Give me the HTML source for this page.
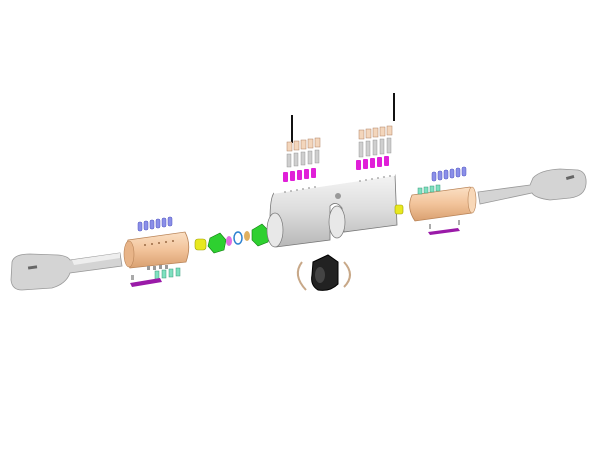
<!DOCTYPE html>
<html><head><style>body{margin:0;background:#fff}svg{display:block}</style></head><body>
<svg width="600" height="450" viewBox="0 0 600 450" xmlns="http://www.w3.org/2000/svg">
<defs>
<linearGradient id="met" x1="0" y1="0" x2="0" y2="1"><stop offset="0" stop-color="#f4f4f4"/><stop offset=".5" stop-color="#dcdcdc"/><stop offset="1" stop-color="#b8b8b8"/></linearGradient>
<linearGradient id="brass" x1="0" y1="0" x2="0" y2="1"><stop offset="0" stop-color="#fbe0c4"/><stop offset=".5" stop-color="#f2c39a"/><stop offset="1" stop-color="#d9a070"/></linearGradient>
</defs>
<!-- left key -->
<path d="M12 262 Q14 254 30 254 L58 255 Q68 256 70 260 L120 253 L122 266 L70 273 Q66 284 52 288 L22 290 Q12 290 11 280 Z" fill="#d4d4d4" stroke="#999" stroke-width=".8"/>
<rect x="28" y="266" width="9" height="3" fill="#666" transform="rotate(-8 32 267)"/>
<path d="M72 260 L120 253 L120 258 L74 265Z" fill="#eee"/>
<!-- left plug -->
<path d="M128 240 L185 232 Q192 245 186 262 L130 268 Q122 255 128 240Z" fill="url(#brass)" stroke="#b98458" stroke-width=".8"/>
<ellipse cx="129" cy="254" rx="5" ry="13" fill="#e8b488" stroke="#b98458" stroke-width=".6"/>
<g fill="#9a6a44"><circle cx="145" cy="245" r="1"/><circle cx="152" cy="244" r="1"/><circle cx="159" cy="243" r="1"/><circle cx="166" cy="242" r="1"/><circle cx="173" cy="241" r="1"/></g>
<g fill="#8a8fe8" stroke="#5055c0" stroke-width=".5">
<rect x="138" y="222" width="4" height="9" rx="1.5"/><rect x="144" y="221" width="4" height="9" rx="1.5"/><rect x="150" y="220" width="4" height="9" rx="1.5"/><rect x="156" y="219" width="4" height="9" rx="1.5"/><rect x="162" y="218" width="4" height="9" rx="1.5"/><rect x="168" y="217" width="4" height="9" rx="1.5"/></g>
<g fill="#999"><rect x="147" y="266" width="3" height="4"/><rect x="153" y="266" width="3" height="4"/><rect x="159" y="265" width="3" height="4"/><rect x="165" y="265" width="3" height="4"/></g>
<g fill="#7fe0c0" stroke="#3a9a7a" stroke-width=".5"><rect x="155" y="271" width="4" height="8"/><rect x="162" y="270" width="4" height="8"/><rect x="169" y="269" width="4" height="8"/><rect x="176" y="268" width="4" height="8"/></g>
<path d="M130 283 L160 278 L162 282 L132 287Z" fill="#9a1aa8"/>
<rect x="131" y="275" width="3" height="5" fill="#aaa"/>
<!-- left cam parts -->
<rect x="195" y="239" width="11" height="11" rx="3" fill="#e8e820" stroke="#a0a000" stroke-width=".6"/>
<path d="M210 238 L220 233 L226 240 L224 250 L214 253 L208 246Z" fill="#2ed030" stroke="#108010" stroke-width=".6"/>
<ellipse cx="229" cy="241" rx="3" ry="5" fill="#e070e0"/>
<ellipse cx="238" cy="238" rx="4" ry="6" fill="none" stroke="#2a80d0" stroke-width="1.5"/>
<ellipse cx="247" cy="236" rx="3" ry="5" fill="#e0b060"/>
<path d="M252 230 L262 224 L270 232 L268 242 L258 246 L252 240Z" fill="#2ed030" stroke="#108010" stroke-width=".6"/>
<!-- main body -->
<path d="M274 193 L395 175 L397 225 L344 232 L342 208 Q336 200 330 206 L330 240 L276 247 Q268 240 270 220 Q270 198 274 193Z" fill="url(#met)" stroke="#777" stroke-width=".8"/>
<ellipse cx="275" cy="230" rx="8" ry="17" fill="#e8e8e8" stroke="#777" stroke-width=".7"/>
<ellipse cx="337" cy="222" rx="8" ry="16" fill="#e8e8e8" stroke="#777" stroke-width=".7"/>
<circle cx="338" cy="196" r="3" fill="#999"/>
<path d="M274 193 L395 175" stroke="#fff" stroke-width="1.5"/>
<g fill="#999"><circle cx="285" cy="192" r=".9"/><circle cx="291" cy="191" r=".9"/><circle cx="297" cy="190" r=".9"/><circle cx="303" cy="189" r=".9"/><circle cx="309" cy="188" r=".9"/><circle cx="315" cy="187" r=".9"/>
<circle cx="360" cy="181" r=".9"/><circle cx="366" cy="180" r=".9"/><circle cx="372" cy="179" r=".9"/><circle cx="378" cy="178" r=".9"/><circle cx="384" cy="177" r=".9"/><circle cx="390" cy="176" r=".9"/></g>
<!-- pin stacks left -->
<rect x="291" y="115" width="2" height="28" fill="#111"/>
<g fill="#f3d6bc" stroke="#b08060" stroke-width=".5"><rect x="287" y="142" width="5" height="9"/><rect x="294" y="141" width="5" height="9"/><rect x="301" y="140" width="5" height="9"/><rect x="308" y="139" width="5" height="9"/><rect x="315" y="138" width="5" height="9"/></g>
<g fill="#cfcfcf" stroke="#888" stroke-width=".4"><rect x="287" y="154" width="4" height="13"/><rect x="294" y="153" width="4" height="13"/><rect x="301" y="152" width="4" height="13"/><rect x="308" y="151" width="4" height="13"/><rect x="315" y="150" width="4" height="13"/></g>
<g fill="#e020d8"><rect x="283" y="172" width="5" height="10" rx="1"/><rect x="290" y="171" width="5" height="10" rx="1"/><rect x="297" y="170" width="5" height="10" rx="1"/><rect x="304" y="169" width="5" height="10" rx="1"/><rect x="311" y="168" width="5" height="10" rx="1"/></g>
<!-- pin stacks right -->
<rect x="393" y="93" width="2" height="28" fill="#111"/>
<g fill="#f3d6bc" stroke="#b08060" stroke-width=".5"><rect x="359" y="130" width="5" height="9"/><rect x="366" y="129" width="5" height="9"/><rect x="373" y="128" width="5" height="9"/><rect x="380" y="127" width="5" height="9"/><rect x="387" y="126" width="5" height="9"/></g>
<g fill="#cfcfcf" stroke="#888" stroke-width=".4"><rect x="359" y="142" width="4" height="15"/><rect x="366" y="141" width="4" height="15"/><rect x="373" y="140" width="4" height="15"/><rect x="380" y="139" width="4" height="15"/><rect x="387" y="138" width="4" height="15"/></g>
<g fill="#e020d8"><rect x="356" y="160" width="5" height="10" rx="1"/><rect x="363" y="159" width="5" height="10" rx="1"/><rect x="370" y="158" width="5" height="10" rx="1"/><rect x="377" y="157" width="5" height="10" rx="1"/><rect x="384" y="156" width="5" height="10" rx="1"/></g>
<!-- right side -->
<rect x="395" y="205" width="8" height="9" rx="2" fill="#e8e820" stroke="#a0a000" stroke-width=".6"/>
<path d="M412 195 L470 187 Q478 200 472 213 L415 221 Q406 208 412 195Z" fill="url(#brass)" stroke="#b98458" stroke-width=".8"/>
<ellipse cx="472" cy="200" rx="4" ry="13" fill="#f8d8b8" stroke="#b98458" stroke-width=".6"/>
<g fill="#8a8fe8" stroke="#5055c0" stroke-width=".5"><rect x="432" y="172" width="4" height="9" rx="1.5"/><rect x="438" y="171" width="4" height="9" rx="1.5"/><rect x="444" y="170" width="4" height="9" rx="1.5"/><rect x="450" y="169" width="4" height="9" rx="1.5"/><rect x="456" y="168" width="4" height="9" rx="1.5"/><rect x="462" y="167" width="4" height="9" rx="1.5"/></g>
<g fill="#7fe0c0" stroke="#3a9a7a" stroke-width=".5"><rect x="418" y="188" width="4" height="6"/><rect x="424" y="187" width="4" height="6"/><rect x="430" y="186" width="4" height="6"/><rect x="436" y="185" width="4" height="6"/></g>
<path d="M428 232 L458 228 L460 231 L430 235Z" fill="#9a1aa8"/>
<rect x="429" y="224" width="2" height="5" fill="#aaa"/><rect x="458" y="220" width="2" height="5" fill="#aaa"/>
<!-- right key -->
<path d="M478 192 L530 185 L533 178 Q540 170 560 169 L578 170 Q587 172 586 184 Q585 196 570 198 L550 200 Q535 198 532 193 L480 204Z" fill="#d4d4d4" stroke="#999" stroke-width=".8"/>
<rect x="566" y="176" width="8" height="3" fill="#666" transform="rotate(-15 570 177)"/>
<!-- cam -->
<path d="M302 262 Q292 275 306 290" fill="none" stroke="#c8a888" stroke-width="2"/>
<path d="M344 262 Q356 275 344 287" fill="none" stroke="#c8a888" stroke-width="2"/>
<path d="M313 262 L328 255 L338 262 L338 284 Q330 292 318 290 Q310 285 312 275Z" fill="#222" stroke="#000"/>
<ellipse cx="320" cy="275" rx="5" ry="8" fill="#444"/>
</svg>
</body></html>
